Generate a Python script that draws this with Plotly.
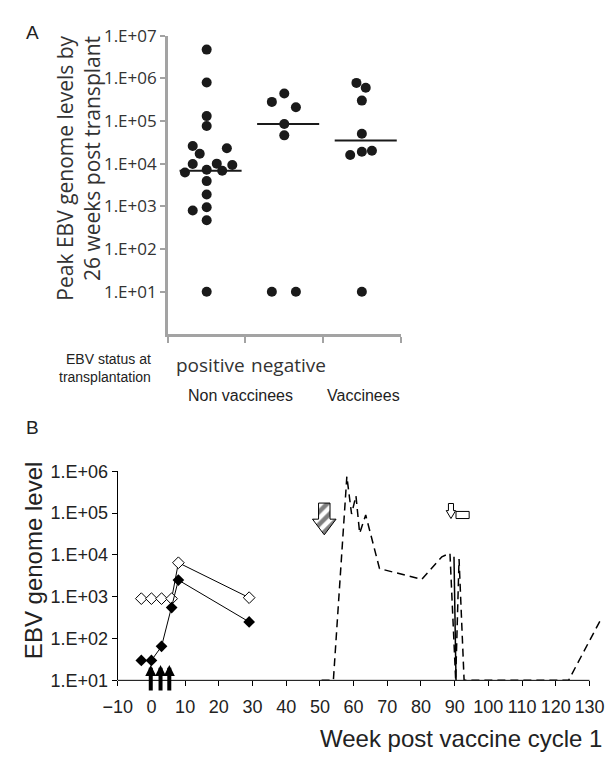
import numpy as np
import plotly.graph_objects as go

W, H = 612, 759

# ---------------- Panel A data ----------------
group_names = ["positive", "negative", "Vaccinees"]
pos_levels = [4.7e6, 8.0e5, 1.3e5, 7.6e4, 2.6e4, 2.3e4, 1.7e4, 9800, 1.0e4, 9300,
              6200, 7200, 6800, 3900, 1900, 800, 950, 470, 10]
pos_jitter = [0, 0, 0, 0, -0.18, 0.26, -0.09, -0.18, 0.13, 0.33,
              -0.28, 0, 0.2, 0, 0, -0.18, 0, 0, 0]
neg_levels = [4.4e5, 2.8e5, 2.1e5, 8.5e4, 4.6e4, 10, 10]
neg_jitter = [0, -0.16, 0.15, 0, 0, -0.16, 0.15]
vac_levels = [7.8e5, 6.0e5, 3.0e5, 5.0e4, 1.6e4, 1.9e4, 2.0e4, 10]
vac_jitter = [-0.07, 0.05, 0, 0, -0.15, 0, 0.13, 0]
median_levels = [6800, 85000, 35000]
a_tickvals = [1e1, 1e2, 1e3, 1e4, 1e5, 1e6, 1e7]
a_ticktext = ["1.E+01", "1.E+02", "1.E+03", "1.E+04", "1.E+05", "1.E+06", "1.E+07"]

# ---------------- Panel B data ----------------
filled_weeks = [-3, 0, 3, 6, 8, 29]
filled_levels = [30, 30, 65, 550, 2500, 250]
open_weeks = [-3, 0, 3, 6, 8, 29]
open_levels = [900, 900, 900, 900, 6500, 950]
dash_weeks = [50.5, 54, 58, 59.4, 60.7, 61.8, 63.6, 67.7, 80.2, 86.2, 88.6, 90.3,
              91.3, 92.8, 96.5, 123.8, 133.2]
dash_levels = [10, 10, 750000, 95000, 260000, 33000, 90000, 4700, 2600, 9000, 11000, 10,
               8000, 10, 10, 10, 270]
solid_weeks = [89.8, 90.4]
solid_levels = [9000, 10]
vaccine_weeks = [-0.2, 2.7, 5.3]
hatched_arrow_week = 51.3
open_arrow_week = 88.9
treatment_weeks = [90.4, 94.3]
b_tickvals = [1e1, 1e2, 1e3, 1e4, 1e5, 1e6]
b_ticktext = ["1.E+01", "1.E+02", "1.E+03", "1.E+04", "1.E+05", "1.E+06"]
week_ticks = list(range(-10, 131, 10))

fig = go.Figure()

# ---- Panel A traces ----
for i, (lv, jt) in enumerate([(pos_levels, pos_jitter), (neg_levels, neg_jitter),
                              (vac_levels, vac_jitter)]):
    fig.add_trace(go.Scatter(
        x=[i + 0.5 + j for j in jt], y=lv, mode="markers",
        marker=dict(size=10, color="#1a1a1a"),
        xaxis="x", yaxis="y", showlegend=False, hoverinfo="skip"))
    fig.add_trace(go.Scatter(
        x=[i + 0.15, i + 0.95], y=[median_levels[i]] * 2, mode="lines",
        line=dict(color="#1a1a1a", width=2),
        xaxis="x", yaxis="y", showlegend=False, hoverinfo="skip"))

# ---- Panel B traces ----
fig.add_trace(go.Scatter(
    x=dash_weeks, y=dash_levels, mode="lines",
    line=dict(color="black", width=1.5, dash="8px,5px"),
    xaxis="x2", yaxis="y2", showlegend=False, hoverinfo="skip"))
fig.add_trace(go.Scatter(
    x=solid_weeks, y=solid_levels, mode="lines",
    line=dict(color="black", width=1.5),
    xaxis="x2", yaxis="y2", showlegend=False, hoverinfo="skip"))
fig.add_trace(go.Scatter(
    x=open_weeks, y=open_levels, mode="lines+markers",
    line=dict(color="black", width=1),
    marker=dict(symbol="diamond", size=9, color="white", line=dict(color="black", width=1)),
    xaxis="x2", yaxis="y2", showlegend=False, hoverinfo="skip"))
fig.add_trace(go.Scatter(
    x=filled_weeks, y=filled_levels, mode="lines+markers",
    line=dict(color="black", width=1),
    marker=dict(symbol="diamond", size=9, color="black"),
    xaxis="x2", yaxis="y2", showlegend=False, hoverinfo="skip"))


def down_arrow(xc, top, base, tip, body_hw, head_hw):
    xs = [xc - body_hw, xc + body_hw, xc + body_hw, xc + head_hw, xc,
          xc - head_hw, xc - body_hw, xc - body_hw]
    ys = [top, top, base, base, tip, base, base, top]
    return xs, [10 ** v for v in ys]


hx, hy = down_arrow(hatched_arrow_week, 5.24, 4.855, 4.48, 1.7, 3.5)
fig.add_trace(go.Scatter(
    x=hx, y=hy, mode="lines", fill="toself", fillcolor="white",
    fillpattern=dict(shape="/", fgcolor="black", bgcolor="white", size=9, solidity=0.5),
    line=dict(color="black", width=1), xaxis="x2", yaxis="y2",
    showlegend=False, hoverinfo="skip"))
ox, oy = down_arrow(open_arrow_week, 5.23, 5.06, 4.87, 0.75, 1.4)
fig.add_trace(go.Scatter(
    x=ox, y=oy, mode="lines", fill="toself", fillcolor="white",
    line=dict(color="black", width=1), xaxis="x2", yaxis="y2",
    showlegend=False, hoverinfo="skip"))
t0, t1 = treatment_weeks
fig.add_trace(go.Scatter(
    x=[t0, t1, t1, t0, t0], y=[10 ** 5.04, 10 ** 5.04, 10 ** 4.87, 10 ** 4.87, 10 ** 5.04],
    mode="lines", fill="toself", fillcolor="white",
    line=dict(color="black", width=1), xaxis="x2", yaxis="y2",
    showlegend=False, hoverinfo="skip"))

# ---- Layout ----
def px(x):
    return x / W


def py(y):
    return 1 - y / H


A_GREY = "#a3a3a3"
xa_dom = [px(157), px(396)]
ya_dom = [py(332), py(24.3)]
xb_range = [-10, 134]
xb_dom = [px(105.5), px(603.7)]
yb_dom = [py(688.3), py(473)]

fig.update_layout(
    width=W, height=H, margin=dict(l=0, r=0, t=0, b=0),
    paper_bgcolor="white", plot_bgcolor="white",
    xaxis=dict(domain=xa_dom, range=[0, 3], showline=True, linecolor=A_GREY, linewidth=2.5,
               ticks="outside", tickvals=[0, 1, 2, 3], ticklen=6, tickwidth=2, tickcolor=A_GREY,
               showticklabels=False, showgrid=False, zeroline=False, anchor="y"),
    yaxis=dict(domain=ya_dom, type="log", range=[0, 7], showline=True, linecolor=A_GREY,
               linewidth=2.5, ticks="outside", tickvals=a_tickvals, ticktext=a_ticktext,
               ticklen=5, tickwidth=2, tickcolor=A_GREY, showgrid=False, zeroline=False,
               tickfont=dict(family="Open Sans", size=17, color="#333333"), anchor="x"),
    xaxis2=dict(domain=xb_dom, range=xb_range, showline=False, ticks="outside",
                tickvals=week_ticks, ticklen=5, tickwidth=1, tickcolor="black",
                ticklabelstandoff=5,
                showgrid=False, zeroline=False, anchor="y2",
                tickfont=dict(family="Liberation Sans", size=18, color="#222222")),
    yaxis2=dict(domain=yb_dom, type="log", range=[1, 6], showline=True, linecolor="black",
                linewidth=1, ticks="outside", tickvals=b_tickvals, ticktext=b_ticktext,
                ticklen=5, tickwidth=1, tickcolor="black", showgrid=False, zeroline=False,
                tickfont=dict(family="Liberation Sans", size=18, color="#222222"), anchor="x2"),
)

# x-axis line of panel B (stops at week 130)
x_end = xb_dom[0] + (130 - xb_range[0]) / (xb_range[1] - xb_range[0]) * (xb_dom[1] - xb_dom[0])
fig.add_shape(type="line", xref="paper", yref="paper", x0=xb_dom[0], x1=x_end,
              y0=yb_dom[0], y1=yb_dom[0], line=dict(color="black", width=1))

annots = []
def txt(text, x, y, size, family="Liberation Sans", xanchor="center", yanchor="middle",
        angle=0, align="center", color="#222222"):
    annots.append(dict(text=text, x=px(x), y=py(y), xref="paper", yref="paper",
                       showarrow=False, xanchor=xanchor, yanchor=yanchor, textangle=angle,
                       align=align, font=dict(family=family, size=size, color=color)))

txt("A", 17.5, 21.5, 19)
txt("B", 17.5, 428, 19)
txt("Peak EBV genome levels by<br>26 weeks post transplant", 65, 161, 21,
    family="Open Sans", angle=-90, align="right", color="#333333")
txt("EBV status at<br>transplantation", 142, 367, 14, xanchor="right", align="right")
txt(group_names[0], 201, 364, 19, family="Open Sans", color="#333333")
txt(group_names[1], 280.5, 364, 19, family="Open Sans", color="#333333")
txt("Non vaccinees", 231.7, 395, 16)
txt(group_names[2], 357.7, 395, 16)
txt("EBV genome level", 19, 565, 24, angle=-90)
txt("Week post vaccine cycle 1", 458, 748, 24)

for w in vaccine_weeks:
    annots.append(dict(x=w, y=1.37, xref="x2", yref="y2", text="", showarrow=True,
                       ax=0, ay=27, axref="pixel", ayref="pixel", arrowhead=2,
                       arrowwidth=4, arrowsize=0.55, arrowcolor="black"))

fig.update_layout(annotations=annots)
fig.write_html("out.html", config={"displayModeBar": False},
               post_script="document.body.style.margin='0px';")
